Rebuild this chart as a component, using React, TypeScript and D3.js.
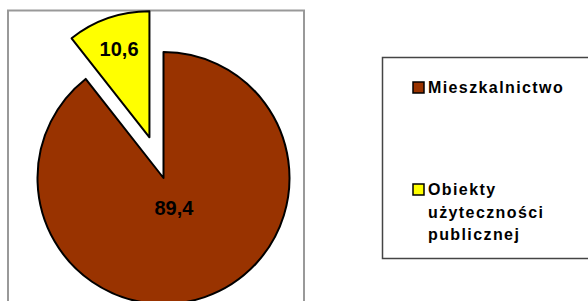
import React, { useEffect, useRef } from 'react';
import * as d3 from 'd3';

// chart data
const categories = ['Mieszkalnictwo', 'Obiekty użyteczności publicznej'];
const values = [89.4, 10.6];
const valueLabels = ['89,4', '10,6'];
const legendLines = [['Mieszkalnictwo'], ['Obiekty', 'użyteczności', 'publicznej']];
const colors = ['#993300', '#FFFF00'];

const W = 588;
const H = 301;

const App = () => {
  const svgRef = useRef<SVGSVGElement>(null);

  useEffect(() => {
    const svg = d3.select(svgRef.current);
    svg.selectAll('*').remove();

    const font = '"Liberation Sans", Arial, sans-serif';

    // plot area frame
    svg.append('rect')
      .attr('x', 8).attr('y', 10.5)
      .attr('width', 296).attr('height', 300)
      .attr('fill', 'none')
      .attr('stroke', '#999')
      .attr('stroke-width', 2);

    const cx = 163.5;
    const cy = 178;
    const r = 126;
    const explode = [0, 43];
    const labelR = [32, 93];

    const pie = d3.pie<number>().sort(null).startAngle(0).endAngle(2 * Math.PI);
    const arcs = pie(values);
    const arc = d3.arc<d3.PieArcDatum<number>>().innerRadius(0).outerRadius(r);

    const g = svg.append('g').attr('transform', `translate(${cx},${cy})`);

    arcs.forEach((a, i) => {
      const mid = (a.startAngle + a.endAngle) / 2;
      const dx = Math.sin(mid) * explode[i];
      const dy = -Math.cos(mid) * explode[i];
      const sg = g.append('g').attr('transform', `translate(${dx},${dy})`);
      sg.append('path')
        .attr('d', arc(a) as string)
        .attr('fill', colors[i])
        .attr('stroke', '#000')
        .attr('stroke-width', 2)
        .attr('stroke-linejoin', 'round');
      sg.append('text')
        .attr('x', Math.sin(mid) * labelR[i])
        .attr('y', -Math.cos(mid) * labelR[i])
        .attr('text-anchor', 'middle')
        .attr('dominant-baseline', 'central')
        .style('font-family', font)
        .style('font-weight', 'bold')
        .style('font-size', '20px')
        .style('fill', '#000')
        .text(valueLabels[i]);
    });

    // legend
    svg.append('rect')
      .attr('x', 382.5).attr('y', 57.5)
      .attr('width', 220).attr('height', 201)
      .attr('fill', '#fff')
      .attr('stroke', '#444')
      .attr('stroke-width', 1.5);

    const legendY = [93, 195];
    categories.forEach((c, i) => {
      const lg = svg.append('g').attr('class', 'legend-item').attr('data-name', c);
      lg.append('rect')
        .attr('x', 413).attr('y', legendY[i] - 11)
        .attr('width', 11).attr('height', 11)
        .attr('fill', colors[i])
        .attr('stroke', '#000')
        .attr('stroke-width', 1.5);
      legendLines[i].forEach((line, j) => {
        lg.append('text')
          .attr('x', 428)
          .attr('y', legendY[i] + j * 22.5)
          .style('font-family', font)
          .style('font-weight', 'bold')
          .style('font-size', '16px')
          .style('letter-spacing', '1.4px')
          .style('fill', '#000')
          .text(line);
      });
    });
  }, []);

  return (
    <svg
      ref={svgRef}
      width={W}
      height={H}
      style={{ position: 'absolute', left: 0, top: 0, background: '#fff' }}
    />
  );
};

export default App;
